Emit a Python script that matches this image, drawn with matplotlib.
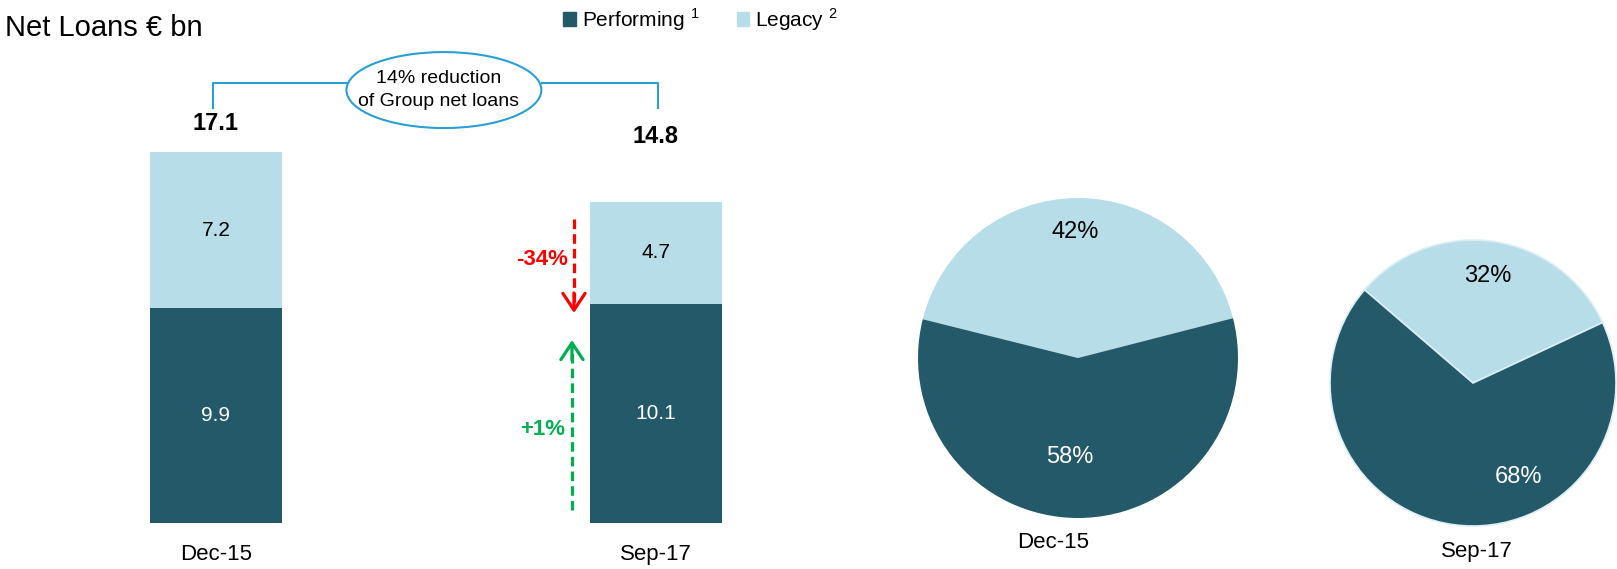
import matplotlib.pyplot as plt
from matplotlib.patches import Ellipse, Patch

plt.rcParams['font.family'] = ['Liberation Sans', 'DejaVu Sans']
plt.rcParams['mathtext.fontset'] = 'custom'
plt.rcParams['mathtext.rm'] = 'Liberation Sans'

# data (EUR bn)
periods = ["Dec-15", "Sep-17"]
performing = [9.9, 10.1]
legacy = [7.2, 4.7]
totals = [17.1, 14.8]
change_legacy = "-34%"
change_performing = "+1%"
reduction_text = "14% reduction\nof Group net loans"

dark = "#235968"
light = "#B7DDE8"
blue = "#2A9FD6"

fig = plt.figure(figsize=(16.17, 5.69), dpi=100)

# ---- stacked bars ----
ax = fig.add_axes([0, 0, 880 / 1617, 1])
x = [0, 1]
ax.bar(x, performing, width=0.3, color=dark)
ax.bar(x, legacy, bottom=performing, width=0.3, color=light)
ax.set_xlim(-0.4909, 1.5091)
ax.set_ylim(-2.12, 24.1)
ax.axis('off')

total_offsets = [1.33, 3.0]
for i in range(len(x)):
    ax.text(x[i], performing[i] / 2, f"{performing[i]:.1f}", color="white",
            ha="center", va="center", fontsize=15)
    ax.text(x[i], performing[i] + legacy[i] / 2, f"{legacy[i]:.1f}", color="black",
            ha="center", va="center", fontsize=15)
    ax.text(x[i], totals[i] + total_offsets[i], f"{totals[i]:.1f}", fontweight="bold",
            ha="center", va="center", fontsize=17)
    ax.text(x[i], -1.43, periods[i], ha="center", va="center", fontsize=16)

# bracket + ellipse
ax.plot([-0.007, -0.007, 0.298], [19.12, 20.28, 20.28], color=blue, lw=1.5)
ax.plot([0.741, 1.005, 1.005], [20.28, 20.28, 19.12], color=blue, lw=1.5)
ax.add_patch(Ellipse((0.518, 19.95), 0.443, 3.5, facecolor="white", edgecolor=blue, lw=1.5))
ax.text(0.505, 19.95, reduction_text, ha="center", va="center", fontsize=14, linespacing=1.4)

# dashed arrows
head = '->,head_length=0.6,head_width=0.4'
ax.plot([0.8136, 0.8136], [14.0, 9.9], color="red", lw=2.3, ls=(0, (3, 1.6)))
ax.annotate('', xy=(0.8136, 9.68), xytext=(0.8136, 10.6),
            arrowprops=dict(arrowstyle=head, color="red", lw=2.3, mutation_scale=20,
                            shrinkA=0, shrinkB=0))
ax.plot([0.809, 0.809], [0.6, 8.2], color="#00B050", lw=2.3, ls=(0, (3, 1.6)))
ax.annotate('', xy=(0.809, 8.43), xytext=(0.809, 7.5),
            arrowprops=dict(arrowstyle=head, color="#00B050", lw=2.3, mutation_scale=20,
                            shrinkA=0, shrinkB=0))
ax.text(0.741, 12.12, change_legacy, color="red", fontweight="bold",
        ha="center", va="center", fontsize=16)
ax.text(0.743, 4.29, change_performing, color="#00B050", fontweight="bold",
        ha="center", va="center", fontsize=16)

# ---- pies ----
ax2 = fig.add_axes([880 / 1617, 0, 737 / 1617, 1])
centers = [(1078, 211), (1473, 186)]
radii = [160, 143]
start_angles = [14.4, 25]
edge_widths = [0, 1.2]
pct_offsets = [[(-3, 126), (-8, -99)], [(15, 107), (45, -94)]]
label_dx = [-25, 4]
for i in range(len(periods)):
    wedges, texts, autotexts = ax2.pie(
        [legacy[i], performing[i]], colors=[light, dark], startangle=start_angles[i],
        center=centers[i], radius=radii[i], autopct='%.0f%%',
        textprops=dict(fontsize=17),
        wedgeprops=dict(linewidth=edge_widths[i], edgecolor="#DDEFF4"))
    for t, (dx, dy) in zip(autotexts, pct_offsets[i]):
        t.set_position((centers[i][0] + dx, centers[i][1] + dy))
    autotexts[0].set_color("black")
    autotexts[1].set_color("white")
    ax2.text(centers[i][0] + label_dx[i], centers[i][1] - radii[i] - 25, periods[i],
             ha="center", va="center", fontsize=16)
ax2.set_xlim(880, 1617)
ax2.set_ylim(0, 569)
ax2.set_aspect('auto')
ax2.axis('off')

# title + legend
fig.text(5 / 1617, 1 - 28 / 569, "Net Loans € bn", ha="left", va="center", fontsize=21)
handles = [Patch(color=dark), Patch(color=light)]
fig.legend(handles, ["Performing $^{1}$", "Legacy $^{2}$"], loc="upper left",
           bbox_to_anchor=(563 / 1617, 1 - 6 / 569), ncol=2, frameon=False,
           handlelength=0.6, handleheight=0.6, handletextpad=0.3, columnspacing=1.8,
           borderaxespad=0, borderpad=0, fontsize=15)

fig.savefig("out.png", dpi=100)
